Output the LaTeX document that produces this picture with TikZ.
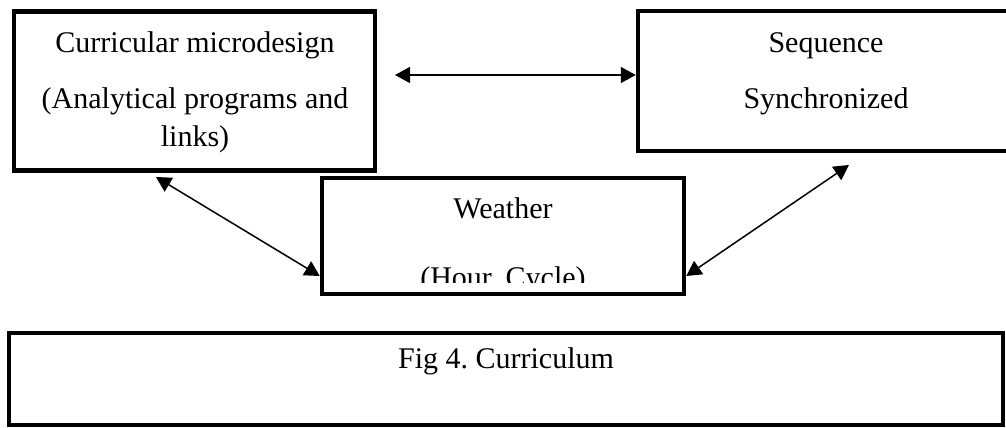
\documentclass[tikz,border=0pt]{standalone}
\usepackage{fontspec}
\setmainfont{Liberation Serif}
\usetikzlibrary{arrows.meta}
\begin{document}
\begin{tikzpicture}[
    x=0.4pt, y=-0.4pt,
    box/.style={rectangle, draw, line width=1.8pt, inner sep=0pt},
    txt/.style={inner sep=0pt, anchor=base, font=\fontsize{12}{15.2}\selectfont},
    darrow/.style={{Triangle[length=6pt,width=6.4pt]}-{Triangle[length=6pt,width=6.4pt]}, line width=0.6pt}
]
    \useasboundingbox (0,0) rectangle (1006,427);
    \clip (0,0) rectangle (1006,427);

    % Top row
    \node[box, minimum width=144.4pt, minimum height=63.6pt] (microdesign) at (194.5,91) {};
    \node[txt] (microtitle) at (195,52) {Curricular microdesign};
    \node[txt] (microline1) at (195,108) {(Analytical programs and};
    \node[txt] (microline2) at (195,146) {links)};

    \node[box, minimum width=150.4pt, minimum height=56pt] (sequence) at (826,81) {};
    \node[txt] (seqtitle) at (826,52) {Sequence};
    \node[txt] (seqline) at (826,108) {Synchronized};

    % Middle box
    \node[box, minimum width=144.8pt, minimum height=46.4pt] (weather) at (503,236) {};
    \node[txt] (weathertitle) at (503,218) {Weather};
    \begin{scope}
        \clip (330,250) rectangle (676,282);
        \node[txt] (weatherline) at (503,287) {(Hour, Cycle)};
    \end{scope}

    % Caption box
    \node[box, minimum width=397.6pt, minimum height=36.8pt] (caption) at (506,379) {};
    \node[txt] (captiontext) at (506,368) {Fig 4.\ Curriculum};

    % Arrows
    \coordinate (hl) at (395,75);
    \coordinate (ml) at (156,177);
    \coordinate (sr) at (849,165);
    \draw[darrow] (hl) -- (hl -| sequence.west);
    \draw[darrow] (ml) -- ([yshift=-16pt]weather.west);
    \draw[darrow] ([yshift=-16pt]weather.east) -- (sr);
\end{tikzpicture}
\end{document}
